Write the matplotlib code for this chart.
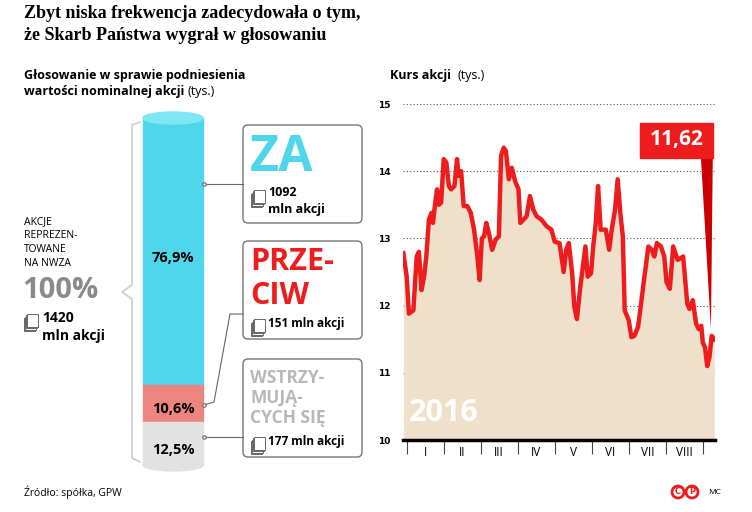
import numpy as np
import matplotlib
matplotlib.use('Agg')
import matplotlib.pyplot as plt
from matplotlib.patches import Ellipse, Rectangle, FancyBboxPatch, Polygon, Circle

# --- data ---
VOTE_LABELS = ['ZA', 'PRZECIW', 'WSTRZYMUJĄCYCH SIĘ']
VOTE_PCT = [76.9, 10.6, 12.5]
VOTE_SHARES = [1092, 151, 177]
TOTAL_SHARES = 1420

MONTHS = ['I', 'II', 'III', 'IV', 'V', 'VI', 'VII', 'VIII']
# x in months since 1 Jan, price in PLN
T = [-0.09, 0, 0.06, 0.18, 0.27, 0.33, 0.4, 0.47, 0.53, 0.6, 0.67, 0.71, 0.76, 0.82, 0.87, 0.93,
     1.0, 1.07, 1.14, 1.2, 1.29, 1.36, 1.4, 1.47, 1.54, 1.64, 1.73, 1.82, 1.91, 1.97, 2.03, 2.09,
     2.15, 2.22, 2.31, 2.4, 2.49, 2.55, 2.62, 2.68, 2.76, 2.84, 2.93, 3.02, 3.07, 3.16, 3.24, 3.33,
     3.42, 3.51, 3.64, 3.78, 3.91, 4.0, 4.13, 4.24, 4.31, 4.38, 4.47, 4.53, 4.6, 4.69, 4.83, 4.89,
     4.98, 5.04, 5.11, 5.17, 5.24, 5.38, 5.47, 5.54, 5.63, 5.7, 5.78, 5.84, 5.89, 6.0, 6.07, 6.15,
     6.25, 6.31, 6.4, 6.53, 6.62, 6.69, 6.76, 6.87, 6.96, 7.02, 7.11, 7.2, 7.32, 7.47, 7.58, 7.64,
     7.73, 7.82, 7.89, 7.96, 8.0, 8.06, 8.12, 8.18, 8.24, 8.31]
PRICE = [12.78, 12.43, 11.88, 11.93, 12.73, 12.8, 12.23, 12.43, 12.73, 13.28, 13.38, 13.23, 13.48,
         13.73, 13.5, 13.53, 14.18, 14.13, 13.78, 13.73, 13.78, 14.18, 13.93, 14.0, 13.48, 13.48,
         13.38, 13.13, 12.73, 12.38, 13.0, 13.03, 13.23, 13.08, 12.83, 12.98, 13.03, 14.23, 14.35,
         14.3, 13.88, 14.05, 13.85, 13.73, 13.23, 13.28, 13.33, 13.63, 13.43, 13.33, 13.28, 13.18,
         13.13, 12.95, 12.93, 12.5, 12.83, 12.93, 12.48, 11.98, 11.8, 12.28, 12.88, 12.43, 12.48,
         12.88, 13.23, 13.78, 13.13, 13.13, 12.83, 13.13, 13.43, 13.88, 13.33, 13.03, 11.93, 11.78,
         11.53, 11.55, 11.68, 11.93, 12.33, 12.88, 12.83, 12.73, 12.93, 12.88, 12.73, 12.35, 12.25,
         12.88, 12.68, 12.73, 12.03, 11.95, 12.08, 11.73, 11.65, 11.7, 11.45, 11.38, 11.1, 11.23,
         11.55, 11.5]
LAST_PRICE = '11,62'

RED = '#ee1c1c'
CYAN = '#4fd6ea'
SANS = 'Open Sans'

fig = plt.figure(figsize=(7.52, 5.12), dpi=100)
bg = fig.add_axes([0, 0, 1, 1])
bg.set_xlim(0, 752); bg.set_ylim(512, 0); bg.axis('off')

# titles
bg.text(24, 14, 'Zbyt niska frekwencja zadecydowała o tym,', fontsize=13, fontweight='bold',
        family='Liberation Serif', va='center')
bg.text(24, 36, 'że Skarb Państwa wygrał w głosowaniu', fontsize=13, fontweight='bold',
        family='Liberation Serif', va='center')
bg.text(24, 75, 'Głosowanie w sprawie podniesienia', fontsize=9, fontweight='bold', family=SANS, va='center')
bg.text(24, 92, 'wartości nominalnej akcji', fontsize=9, fontweight='bold', family=SANS, va='center')
bg.text(188, 92, '(tys.)', fontsize=9, family=SANS, va='center')
bg.text(390, 75, 'Kurs akcji', fontsize=9, fontweight='bold', family=SANS, va='center')
bg.text(457, 75, '(tys.)', fontsize=9, family=SANS, va='center')

# cylinder
cx, cw, top, bot = 173, 60, 118, 465
colors = [CYAN, '#ec8580', '#e2e2e2']
y = top
for p, c in zip(VOTE_PCT, colors):
    h = (bot - top) * p / 100
    bg.add_patch(Rectangle((cx - cw / 2, y), cw, h, color=c, zorder=2))
    y += h
bg.add_patch(Ellipse((cx, bot), cw, 12, color='#e2e2e2', zorder=1))
bg.add_patch(Ellipse((cx, top), cw, 12, color='#7fe6f4', zorder=3))
for p, yy in zip(VOTE_PCT, [258, 409, 450]):
    bg.text(cx, yy, f'{p:.1f}%'.replace('.', ','), fontsize=10.5, fontweight='bold',
            family=SANS, ha='center', va='center', zorder=4)

# brace
bg.plot([140, 132, 132, 122, 132, 132, 140], [122, 125, 285, 292, 299, 458, 462],
        color='#cccccc', lw=1.2)
for i, s in enumerate(['AKCJE', 'REPREZEN-', 'TOWANE', 'NA NWZA']):
    bg.text(24, 222 + i * 14, s, fontsize=7.5, family=SANS, va='center')
bg.text(22, 291, '100%', fontsize=21, fontweight='bold', family=SANS, color='#8a8a8a', va='center')


def icon(x, y):
    for k in range(4):
        bg.add_patch(Rectangle((x + k, y - k * 1.5), 11, 13, fc='white', ec='#666666', lw=0.7))


icon(24, 318)
bg.text(42, 318, str(TOTAL_SHARES), fontsize=10, fontweight='bold', family=SANS, va='center')
bg.text(42, 336, 'mln akcji', fontsize=10, fontweight='bold', family=SANS, va='center')

# boxes
for by in (125, 241, 359):
    bg.add_patch(FancyBboxPatch((243, by), 119, 98, boxstyle='round,pad=0,rounding_size=5',
                                fc='white', ec='#777777', lw=1))
bg.text(250, 158, 'ZA', fontsize=36, fontweight='bold', family=SANS, color=CYAN, va='center')
icon(251, 194)
bg.text(268, 193, str(VOTE_SHARES[0]), fontsize=9, fontweight='bold', family=SANS, va='center')
bg.text(268, 209, 'mln akcji', fontsize=9, fontweight='bold', family=SANS, va='center')
bg.text(250, 262, 'PRZE-', fontsize=22, fontweight='bold', family=SANS, color=RED, va='center')
bg.text(250, 296, 'CIW', fontsize=22, fontweight='bold', family=SANS, color=RED, va='center')
icon(251, 323)
bg.text(268, 323, f'{VOTE_SHARES[1]} mln akcji', fontsize=8.5, fontweight='bold', family=SANS, va='center')
for i, s in enumerate(['WSTRZY-', 'MUJĄ-', 'CYCH SIĘ']):
    bg.text(250, 378 + i * 20, s, fontsize=12.5, fontweight='bold', family=SANS, color='#b8b8b8', va='center')
icon(251, 441)
bg.text(268, 441, f'{VOTE_SHARES[2]} mln akcji', fontsize=8.5, fontweight='bold', family=SANS, va='center')

# connectors
bg.plot([204, 243], [184, 184], color='#666666', lw=0.8)
bg.plot([204, 214, 230, 243], [405, 402, 314, 314], color='#666666', lw=0.8)
bg.plot([204, 243], [437, 437], color='#666666', lw=0.8)
for py in (184, 405, 437):
    bg.plot(204, py, 'o', ms=2.5, mfc='white', mec='#666666', mew=0.8)

bg.text(24, 492, 'Źródło: spółka, GPW', fontsize=7.5, family=SANS, va='center')
for lx, ch in ((678, 'C'), (692, 'P')):
    bg.add_patch(Circle((lx, 492), 6, fc='white', ec=RED, lw=2))
    bg.text(lx, 492, ch, fontsize=6, fontweight='bold', color=RED, ha='center', va='center')
bg.text(708, 493, 'MC', fontsize=6, family=SANS, va='center')

# price chart
ax = fig.add_axes([403 / 752, 1 - 440 / 512, 312 / 752, 336 / 512])
ax.set_xlim(-0.1, 8.33); ax.set_ylim(10, 15)
ax.fill_between(T, PRICE, 10, color='#efe0cc', lw=0)
ax.plot(T, PRICE, color=RED, lw=3.2, solid_joinstyle='round')
for v in (11, 12, 13, 14, 15):
    ax.axhline(v, color='#555555', lw=0.8, ls=(0, (1, 2)), zorder=0)
ax.set_yticks([10, 11, 12, 13, 14, 15])
ax.set_yticklabels(['10', '11', '12', '13', '14', '15'], fontsize=6.5, fontweight='bold')
ax.tick_params(axis='y', length=0, pad=18)
for lab in ax.get_yticklabels():
    lab.set_horizontalalignment('left')
ax.set_xticks(range(9))
ax.set_xticklabels([])
ax.set_xticks([m + 0.5 for m in range(8)], minor=True)
ax.set_xticklabels(MONTHS, minor=True, fontsize=8.5, family=SANS)
ax.tick_params(axis='x', which='major', length=10, width=0.8, color='#444444')
ax.tick_params(axis='x', which='minor', length=0, pad=4)
for s in ('top', 'right', 'left'):
    ax.spines[s].set_visible(False)
ax.spines['bottom'].set_linewidth(2.5)
ax.set_facecolor('none')
ax.text(0.05, 10.4, '2016', fontsize=22, fontweight='bold', family=SANS, color='white', va='center')

# last price callout
ax.add_patch(Polygon([[7.95, 14.2], [8.27, 14.2], [8.22, 11.65]], closed=True, fc='#cc0000', ec='none', zorder=5))
ax.add_patch(Rectangle((6.3, 14.2), 1.98, 0.52, color=RED, zorder=6))
ax.text(7.29, 14.47, LAST_PRICE, fontsize=15, fontweight='bold', family=SANS, color='white',
        ha='center', va='center', zorder=7)

fig.savefig('out.png', dpi=100)
